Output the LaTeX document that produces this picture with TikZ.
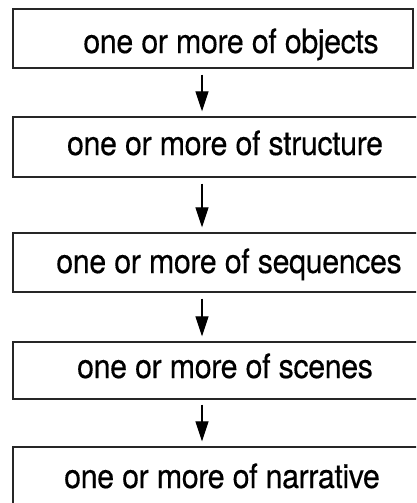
\documentclass[tikz,border=0pt]{standalone}
\usepackage{fontspec}
\setmainfont{TeX Gyre Heros}[LetterSpace=-1.5, FakeBold=0.3]
\usetikzlibrary{arrows.meta}
\newcommand{\tallText}[1]{\scalebox{1}[1.1]{#1}}
\begin{document}
\begin{tikzpicture}[x=1pt,y=-1pt,
  box/.style={draw=black!85, line width=1.4pt, rectangle, inner sep=0pt},
  lbl/.style={anchor=base, inner sep=0pt, font=\fontsize{30.5}{32}\selectfont},
  arr/.style={draw=black, line width=1.2pt, -{Triangle[length=20pt,width=13pt]}}]
\useasboundingbox (0,0) rectangle (416,503);
\clip (0,0) rectangle (416,503);
\fill[white] (0,0) rectangle (416,503);
\coordinate (ax) at (202,0);
\node[box, minimum width=400pt, minimum height=59pt] (b1) at (213,38.5) {};
\node[box, minimum width=430pt, minimum height=60pt] (b2) at (228,147) {};
\node[box, minimum width=430pt, minimum height=59pt] (b3) at (228,262.5) {};
\node[box, minimum width=430pt, minimum height=57pt] (b4) at (228,370.5) {};
\node[box, minimum width=430pt, minimum height=80pt] (b5) at (228,487) {};
\node[lbl] (t1) at (231,53) {\tallText{one or more of objects}};
\node[lbl] (t2) at (225,155) {\tallText{one or more of structure}};
\node[lbl] (t3) at (229,273) {\tallText{one or more of sequences}};
\node[lbl] (t4) at (225,378) {\tallText{one or more of scenes}};
\node[lbl] (t5) at (222,488) {\tallText{one or more of narrative}};
\draw[arr, shorten <=6pt, shorten >=5pt] (b1.south -| ax) -- (b2.north -| ax);
\draw[arr, shorten <=6pt, shorten >=5pt] (b2.south -| ax) -- (b3.north -| ax);
\draw[arr, shorten <=6pt, shorten >=5pt] (b3.south -| ax) -- (b4.north -| ax);
\draw[arr, shorten <=5pt, shorten >=5pt] (b4.south -| ax) -- (b5.north -| ax);
\end{tikzpicture}
\end{document}
